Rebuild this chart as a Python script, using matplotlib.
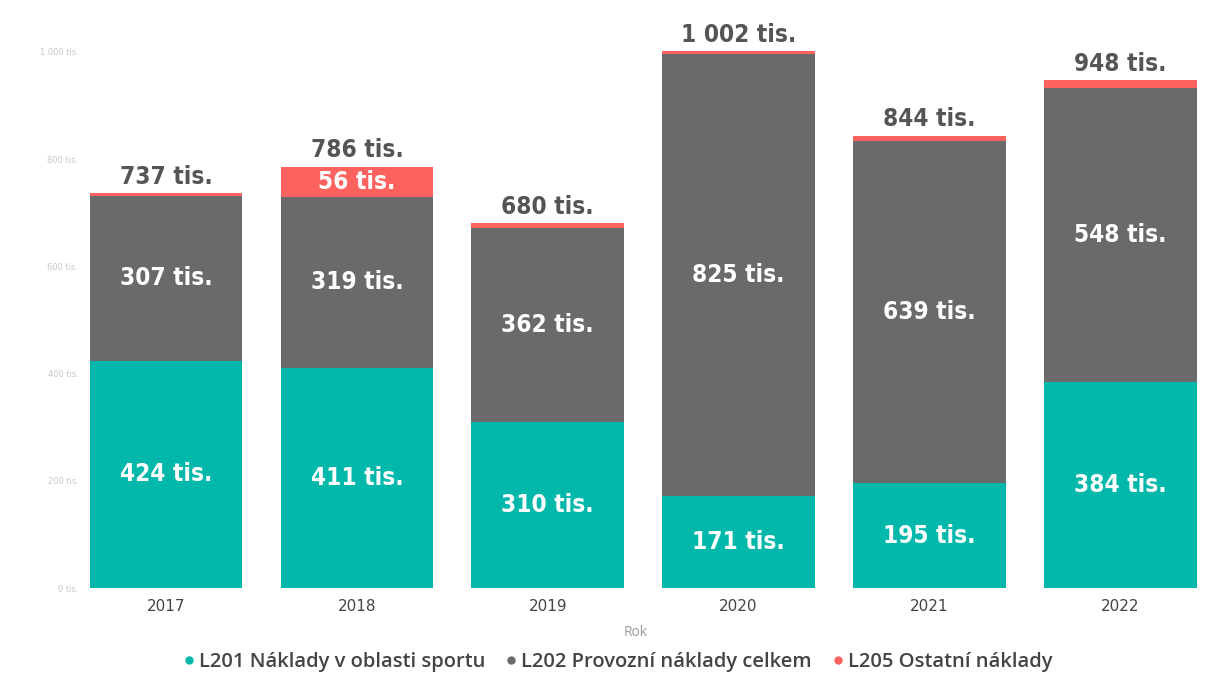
import matplotlib
matplotlib.use("Agg")
import matplotlib.pyplot as plt
from matplotlib.lines import Line2D
import numpy as np

years = ["2017", "2018", "2019", "2020", "2021", "2022"]
sport = [424, 411, 310, 171, 195, 384]
provoz = [307, 319, 362, 825, 639, 548]
ostatni = [6, 56, 8, 6, 10, 16]
totals = [737, 786, 680, 1002, 844, 948]
yticks = [0, 200, 400, 600, 800, 1000]
series_names = ["L201 Náklady v oblasti sportu",
                "L202 Provozní náklady celkem",
                "L205 Ostatní náklady"]

c_sport = "#01B8AA"
c_prov = "#6A6A6A"
c_ost = "#FD625E"

def fmt(v):
    s = f"{v:,}".replace(",", " ")
    return s + " tis."

lab = dict(family="DejaVu Sans", fontstretch="condensed", fontsize=17.5,
           fontweight="bold", ha="center")

fig = plt.figure(figsize=(12.09, 6.79), dpi=100)
ax = fig.add_axes([0.0742, 0.134, 0.9155, 0.829])

x = np.arange(len(years))
w = 0.8
ax.bar(x, sport, w, color=c_sport)
ax.bar(x, provoz, w, bottom=sport, color=c_prov)
bot3 = [a + b for a, b in zip(sport, provoz)]
ax.bar(x, ostatni, w, bottom=bot3, color=c_ost)

for i in range(len(years)):
    ax.text(x[i], sport[i] / 2, fmt(sport[i]), va="center", color="white", **lab)
    ax.text(x[i], sport[i] + provoz[i] / 2, fmt(provoz[i]), va="center",
            color="white", **lab)
    if ostatni[i] > 30:
        ax.text(x[i], bot3[i] + ostatni[i] / 2, fmt(ostatni[i]), va="center",
                color="white", **lab)
    ax.text(x[i], totals[i] + 8, fmt(totals[i]), va="bottom",
            color="#555555", **lab)

ax.set_xlim(-0.4, 5.4)
ax.set_ylim(0, 1050)
ax.set_yticks(yticks)
ax.set_yticklabels([fmt(v) for v in yticks], fontsize=6, color="#C8C8C8")
ax.set_xticks(x)
ax.set_xticklabels(years, fontsize=11, color="#444444")
ax.tick_params(axis="both", length=0)
ax.tick_params(axis="y", pad=8)
ax.tick_params(axis="x", pad=8)
for s in ax.spines.values():
    s.set_visible(False)

fig.text(0.526, 0.068, "Rok", ha="center", va="center", fontsize=10,
         color="#9A9A9A", family="Open Sans")

handles = [Line2D([], [], marker="o", linestyle="", color=c, markersize=5)
           for c in (c_sport, c_prov, c_ost)]
fig.legend(handles, series_names, loc="center", bbox_to_anchor=(0.505, 0.025),
           ncol=3, frameon=False, handletextpad=-0.5, columnspacing=0.3,
           prop={"family": "Open Sans", "size": 14.5, "weight": "semibold"},
           labelcolor="#444444")

fig.savefig("out.png", dpi=100)
